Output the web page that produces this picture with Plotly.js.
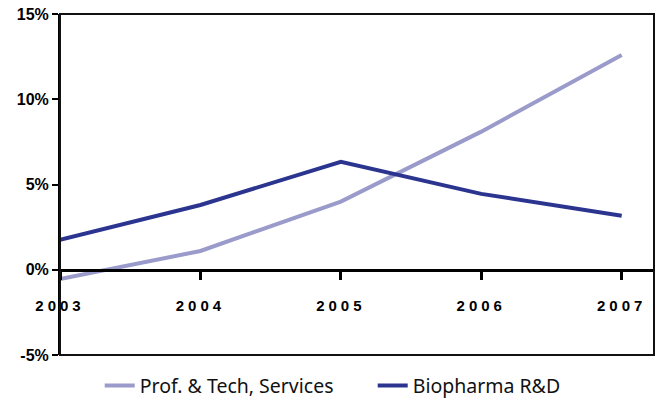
<!DOCTYPE html>
<html>
<head>
<meta charset="utf-8">
<script src="https://cdn.plot.ly/plotly-3.0.1.min.js"></script>
<style>
html,body{margin:0;padding:0;background:#fff;}
#chart{width:656px;height:402px;}
.xtick text{letter-spacing:4px;}
</style>
</head>
<body>
<div id="chart"></div>
<script>
var years = [2003, 2004, 2005, 2006, 2007];
var yearLabels = ['2003', '2004', '2005', '2006', '2007'];
var profTech = [-0.55, 1.1, 4.0, 8.1, 12.6];
var biopharma = [1.75, 3.8, 6.33, 4.45, 3.17];
var seriesNames = ['Prof. & Tech, Services', 'Biopharma R&D'];
var yTickVals = [-5, 0, 5, 10, 15];
var yTickText = ['-5%', '0%', '5%', '10%', '15%'];

var traces = [
  {x: years, y: profTech, name: seriesNames[0], type: 'scatter', mode: 'lines',
   line: {color: '#9a9bcb', width: 4}},
  {x: years, y: biopharma, name: seriesNames[1], type: 'scatter', mode: 'lines',
   line: {color: '#2b3590', width: 4}}
];

var layout = {
  width: 656, height: 402,
  margin: {l: 60, r: 2, t: 14, b: 47},
  paper_bgcolor: '#fff', plot_bgcolor: '#fff',
  showlegend: true,
  legend: {orientation: 'h', xref: 'container', yref: 'container', x: 0.152, xanchor: 'left',
           y: 0.04, yanchor: 'middle', font: {family: 'Noto Sans, sans-serif', size: 19.5, color: '#111'},
           entrywidth: 228},
  xaxis: {range: [2003, 2007.23], tickvals: years, ticktext: yearLabels,
          anchor: 'free', position: 0.25, showline: true, linecolor: '#000', linewidth: 3,
          ticks: 'outside', ticklen: 8, tickwidth: 3, tickcolor: '#000',
          ticklabelstandoff: 13, showgrid: false, zeroline: false,
          tickfont: {family: 'Liberation Sans, Arial, sans-serif', size: 15, color: '#000', weight: 'bold'}},
  yaxis: {range: [-5, 15], tickvals: yTickVals, ticktext: yTickText,
          showline: true, linecolor: '#000', linewidth: 2,
          ticks: 'outside', ticklen: 6, tickwidth: 2, tickcolor: '#000',
          showgrid: false, zeroline: false,
          tickfont: {family: 'Liberation Sans, Arial, sans-serif', size: 16, color: '#000', weight: 'bold'}},
  shapes: [{type: 'rect', xref: 'paper', yref: 'paper', x0: 0, x1: 1, y0: 0, y1: 1,
            line: {color: '#111', width: 2}, layer: 'above'}]
};

Plotly.newPlot('chart', traces, layout, {displayModeBar: false, staticPlot: true});
</script>
</body>
</html>
